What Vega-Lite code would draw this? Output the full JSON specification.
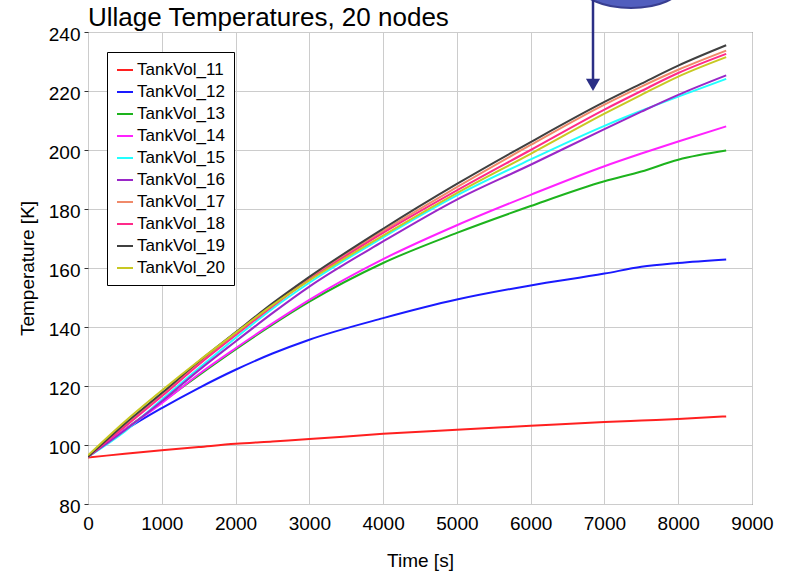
{
  "$schema": "https://vega.github.io/schema/vega-lite/v6.json",
  "width": 664,
  "height": 472,
  "autosize": {"type": "none"},
  "padding": {"left": 88, "top": 32, "right": 36, "bottom": 73},
  "background": "white",
  "title": {
    "text": "Ullage Temperatures, 20 nodes",
    "anchor": "start",
    "frame": "group",
    "fontSize": 26,
    "font": "Liberation Sans",
    "fontWeight": "normal",
    "color": "black",
    "offset": 4,
    "dy": 75
  },
  "config": {
    "font": "Liberation Sans",
    "view": {"stroke": "#333333", "strokeWidth": 1},
    "axis": {
      "domain": false,
      "grid": true,
      "gridColor": "#cccccc",
      "gridWidth": 1,
      "labelFont": "Liberation Sans",
      "labelFontSize": 19,
      "labelColor": "black",
      "titleFont": "Liberation Sans",
      "titleFontSize": 19,
      "titleFontWeight": "normal",
      "titleColor": "black",
      "tickColor": "#333333"
    },
    "legend": {
      "labelFont": "Liberation Sans",
      "labelFontSize": 17,
      "labelColor": "black"
    }
  },
  "datasets": {
    "temps": [
      {"t": 0, "TankVol_11": 95.8, "TankVol_12": 96, "TankVol_13": 96, "TankVol_14": 96, "TankVol_15": 96, "TankVol_16": 96, "TankVol_17": 96, "TankVol_18": 96, "TankVol_19": 96, "TankVol_20": 96.5},
      {"t": 500, "TankVol_11": 97, "TankVol_12": 105, "TankVol_13": 105.2, "TankVol_14": 105.2, "TankVol_15": 104.6, "TankVol_16": 105, "TankVol_17": 106.5, "TankVol_18": 106.2, "TankVol_19": 107.2, "TankVol_20": 108},
      {"t": 1000, "TankVol_11": 98.2, "TankVol_12": 112.5, "TankVol_13": 114.5, "TankVol_14": 114.2, "TankVol_15": 115.4, "TankVol_16": 114.8, "TankVol_17": 117, "TankVol_18": 116.5, "TankVol_19": 117.6, "TankVol_20": 118.5},
      {"t": 1500, "TankVol_11": 99.3, "TankVol_12": 119.3, "TankVol_13": 123.6, "TankVol_14": 124.0, "TankVol_15": 126, "TankVol_16": 125.3, "TankVol_17": 127.8, "TankVol_18": 127.2, "TankVol_19": 128.3, "TankVol_20": 128.5},
      {"t": 2000, "TankVol_11": 100.4, "TankVol_12": 125.5, "TankVol_13": 132.4, "TankVol_14": 132.8, "TankVol_15": 136.3, "TankVol_16": 135.1, "TankVol_17": 137.8, "TankVol_18": 137.2, "TankVol_19": 138.2, "TankVol_20": 138},
      {"t": 2500, "TankVol_11": 101.2, "TankVol_12": 131, "TankVol_13": 140.8, "TankVol_14": 141.2, "TankVol_15": 146.2, "TankVol_16": 144.7, "TankVol_17": 147.6, "TankVol_18": 147, "TankVol_19": 148, "TankVol_20": 147.4},
      {"t": 3000, "TankVol_11": 102, "TankVol_12": 135.7, "TankVol_13": 148.6, "TankVol_14": 149.2, "TankVol_15": 155, "TankVol_16": 153.7, "TankVol_17": 156.5, "TankVol_18": 156, "TankVol_19": 157, "TankVol_20": 155.8},
      {"t": 4000, "TankVol_11": 103.8, "TankVol_12": 143, "TankVol_13": 161.7, "TankVol_14": 163, "TankVol_15": 170.4, "TankVol_16": 169, "TankVol_17": 172.6, "TankVol_18": 171.9, "TankVol_19": 173.3, "TankVol_20": 171},
      {"t": 5000, "TankVol_11": 105.2, "TankVol_12": 149.3, "TankVol_13": 171.9, "TankVol_14": 174.5, "TankVol_15": 184.6, "TankVol_16": 183.2, "TankVol_17": 187.4, "TankVol_18": 186.3, "TankVol_19": 188.5, "TankVol_20": 185.4},
      {"t": 6000, "TankVol_11": 106.5, "TankVol_12": 154.1, "TankVol_13": 181, "TankVol_14": 184.8, "TankVol_15": 196.8, "TankVol_16": 195, "TankVol_17": 201.7, "TankVol_18": 200, "TankVol_19": 202.7, "TankVol_20": 198.7},
      {"t": 7000, "TankVol_11": 107.8, "TankVol_12": 158.1, "TankVol_13": 189.4, "TankVol_14": 194.5, "TankVol_15": 208.2, "TankVol_16": 207.1, "TankVol_17": 215.4, "TankVol_18": 213.7, "TankVol_19": 216.3, "TankVol_20": 212.3},
      {"t": 7500, "TankVol_11": 108.3, "TankVol_12": 160.4, "TankVol_13": 192.7, "TankVol_14": 198.8, "TankVol_15": 213.3, "TankVol_16": 213, "TankVol_17": 221.5, "TankVol_18": 220, "TankVol_19": 222.5, "TankVol_20": 218.7},
      {"t": 8000, "TankVol_11": 108.8, "TankVol_12": 161.7, "TankVol_13": 196.7, "TankVol_14": 202.9, "TankVol_15": 218.1, "TankVol_16": 218.7, "TankVol_17": 227.2, "TankVol_18": 226.1, "TankVol_19": 228.6, "TankVol_20": 224.9},
      {"t": 8650, "TankVol_11": 109.7, "TankVol_12": 162.9, "TankVol_13": 199.8, "TankVol_14": 208, "TankVol_15": 224.1, "TankVol_16": 225.3, "TankVol_17": 233.7, "TankVol_18": 232.6, "TankVol_19": 235.5, "TankVol_20": 231.5}
    ],
    "blob": [{"t": 7360, "y": 255.6}],
    "shaft": [{"t": 6845, "y": 252, "y2": 224}],
    "head": [{"t": 6845, "y": 222.1}]
  },
  "layer": [
    {
      "data": {"name": "temps"},
      "transform": [
        {"fold": ["TankVol_11", "TankVol_12", "TankVol_13", "TankVol_14", "TankVol_15", "TankVol_16", "TankVol_17", "TankVol_18", "TankVol_19", "TankVol_20"], "as": ["series", "T"]}
      ],
      "mark": {"type": "line", "strokeWidth": 2, "interpolate": "monotone", "clip": true},
      "encoding": {
        "x": {
          "field": "t", "type": "quantitative",
          "scale": {"domain": [0, 9000], "nice": false},
          "axis": {"title": "Time [s]", "format": "d", "values": [0, 1000, 2000, 3000, 4000, 5000, 6000, 7000, 8000, 9000], "ticks": false, "labelPadding": 10, "titlePadding": 18, "labelFlush": false, "labelOverlap": false}
        },
        "y": {
          "field": "T", "type": "quantitative",
          "scale": {"domain": [80, 240], "nice": false, "zero": false},
          "axis": {"title": "Temperature [K]", "format": "d", "values": [80, 100, 120, 140, 160, 180, 200, 220, 240], "tickSize": 4, "labelPadding": 4, "titlePadding": 11, "labelOffset": 2, "labelFlush": false, "labelOverlap": false}
        },
        "color": {
          "field": "series", "type": "nominal",
          "scale": {
            "domain": ["TankVol_11", "TankVol_12", "TankVol_13", "TankVol_14", "TankVol_15", "TankVol_16", "TankVol_17", "TankVol_18", "TankVol_19", "TankVol_20"],
            "range": ["#ff2020", "#1a1aff", "#1db31d", "#ff22ff", "#22ffff", "#9a27c8", "#f08a6a", "#ff2a8a", "#404040", "#c8c822"]
          },
          "legend": {
            "title": null,
            "orient": "none",
            "legendX": 19,
            "legendY": 20,
            "padding": 9,
            "fillColor": "white",
            "strokeColor": "black",
            "symbolType": "stroke",
            "symbolSize": 256,
            "symbolStrokeWidth": 2,
            "rowPadding": 5,
            "labelOffset": 3
          }
        }
      }
    },
    {
      "data": {"name": "blob"},
      "mark": {"type": "point", "shape": "M -1 0 A 1 0.44 0 1 0 1 0 A 1 0.44 0 1 0 -1 0 Z", "size": 10000, "filled": true, "fill": "#3f4db8", "stroke": "#232a85", "strokeWidth": 2, "opacity": 0.9, "clip": false},
      "encoding": {
        "x": {"field": "t", "type": "quantitative"},
        "y": {"field": "y", "type": "quantitative"}
      }
    },
    {
      "data": {"name": "shaft"},
      "mark": {"type": "rule", "color": "#2b2f86", "strokeWidth": 2.5, "clip": false},
      "encoding": {
        "x": {"field": "t", "type": "quantitative"},
        "y": {"field": "y", "type": "quantitative"},
        "y2": {"field": "y2"}
      }
    },
    {
      "data": {"name": "head"},
      "mark": {"type": "point", "shape": "triangle-down", "size": 200, "filled": true, "color": "#2b2f86", "opacity": 1, "clip": false},
      "encoding": {
        "x": {"field": "t", "type": "quantitative"},
        "y": {"field": "y", "type": "quantitative"}
      }
    }
  ]
}
